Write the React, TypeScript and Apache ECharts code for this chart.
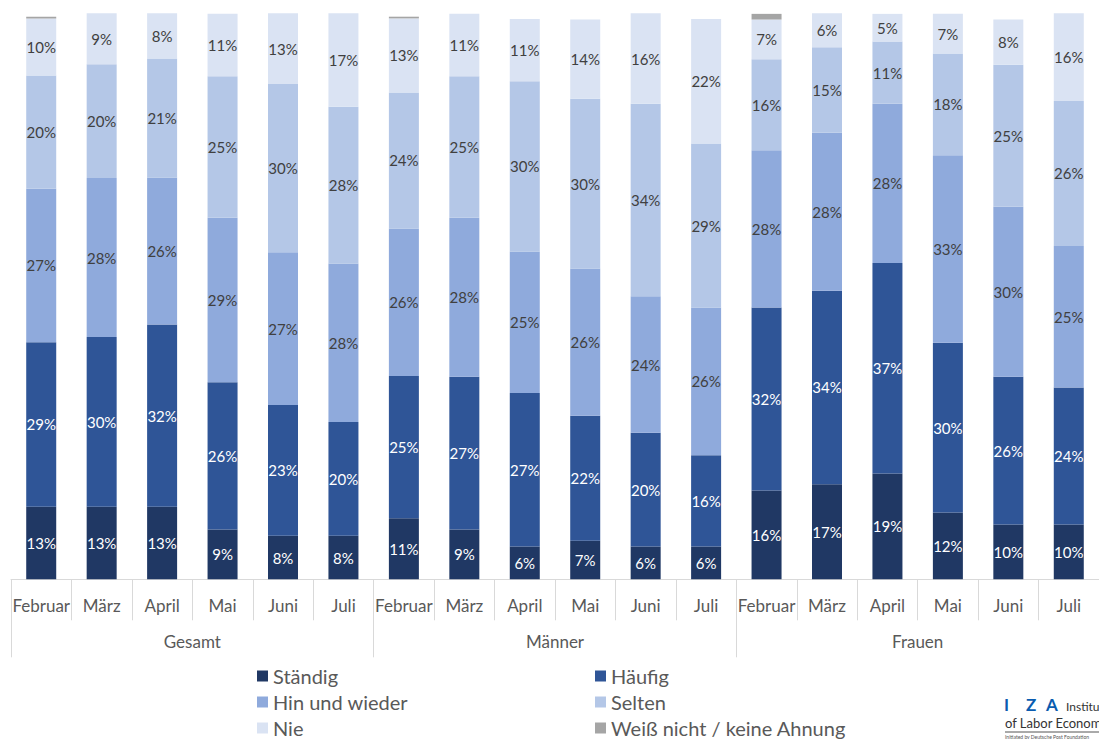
import React, { useEffect, useRef } from "react";
import * as echarts from "echarts";

const months = ["Februar", "März", "April", "Mai", "Juni", "Juli"];
const groups = ["Gesamt", "Männer", "Frauen"];
const categories = groups.flatMap(() => months);

const seriesNames = ["Ständig", "Häufig", "Hin und wieder", "Selten", "Nie", "Weiß nicht / keine Ahnung"];

const staendig = [12.8, 12.8, 12.8, 8.8, 7.7, 7.7, 10.8, 8.8, 5.8, 6.8, 5.8, 5.8, 15.7, 16.8, 18.7, 11.8, 9.7, 9.7];
const haeufig = [29.1, 30.0, 32.2, 26.0, 23.1, 20.1, 25.1, 27.0, 27.1, 22.1, 20.1, 16.1, 32.3, 34.2, 37.2, 30.0, 26.1, 24.2];
const hinUndWieder = [27.1, 28.1, 26.0, 29.1, 27.0, 28.0, 26.1, 28.1, 25.0, 26.0, 24.1, 26.1, 27.8, 27.9, 28.1, 33.1, 30.0, 25.0];
const selten = [20.0, 20.1, 21.0, 25.0, 29.7, 27.7, 24.0, 25.0, 30.1, 30.0, 34.0, 29.0, 16.1, 15.1, 11.0, 18.0, 25.1, 25.6];
const nie = [10.1, 9.0, 8.0, 11.0, 12.5, 16.5, 13.1, 11.0, 11.0, 14.0, 16.0, 22.0, 7.0, 6.0, 4.9, 7.0, 8.0, 15.5];
const weissNicht = [0.3, 0, 0, 0, 0, 0, 0.3, 0, 0, 0, 0, 0, 1.0, 0, 0, 0, 0, 0];

const seriesData = [staendig, haeufig, hinUndWieder, selten, nie, weissNicht];
const colors = ["#203864", "#2f5597", "#8faadc", "#b4c7e7", "#dae3f3", "#a5a5a5"];
const labelColors = ["#ffffff", "#ffffff", "#404040", "#404040", "#404040", "#404040"];

// legend layout: [left, top] for each series' legend item
const legendPos: [number, number][] = [
  [257, 666],
  [595, 666],
  [257, 692],
  [595, 692],
  [257, 718],
  [595, 718],
];

const FONT = 'Lato, "Noto Sans", sans-serif';

export default function App() {
  const ref = useRef<HTMLDivElement>(null);
  useEffect(() => {
    if (!ref.current) return;
    const chart = echarts.init(ref.current, null, { renderer: "svg" });
    const series = seriesNames.map((name, i) => ({
      name,
      type: "bar",
      stack: "total",
      xAxisIndex: 0,
      barWidth: 30,
      data: seriesData[i],
      itemStyle: { color: colors[i] },
      label: {
        show: i < 5,
        position: "inside",
        color: labelColors[i],
        fontSize: 15,
        fontFamily: FONT,
        formatter: (p: any) => (p.value > 0 ? Math.round(p.value) + "%" : ""),
      },
      emphasis: { disabled: true },
    }));
    const legends = seriesNames.map((name, i) => ({
      data: [name],
      orient: "horizontal",
      left: legendPos[i][0],
      top: legendPos[i][1],
      icon: "rect",
      itemWidth: 11,
      itemHeight: 11,
      padding: 0,
      selectedMode: false,
      textStyle: { fontSize: 20, lineHeight: 20, color: "#595959", fontFamily: FONT },
    }));
    chart.setOption({
      animation: false,
      textStyle: { fontFamily: FONT },
      grid: { left: 11, top: 13.3, width: 1092.6, height: 566, containLabel: false },
      xAxis: [
        {
          type: "category",
          data: categories,
          position: "bottom",
          offset: 0,
          axisLine: { show: true, lineStyle: { color: "#d9d9d9", width: 1 } },
          axisTick: { show: true, interval: 0, length: 41, lineStyle: { color: "#d9d9d9" } },
          axisLabel: { interval: 0, margin: 18, fontSize: 17, color: "#595959", fontFamily: FONT },
        },
        {
          type: "category",
          data: groups,
          position: "bottom",
          offset: 0,
          axisLine: { show: false },
          axisTick: { show: true, interval: 0, length: 78, lineStyle: { color: "#d9d9d9" } },
          axisLabel: { interval: 0, margin: 54, fontSize: 17, color: "#595959", fontFamily: FONT },
        },
      ],
      yAxis: { type: "value", min: 0, max: 100, show: false, splitLine: { show: false } },
      legend: legends,
      graphic: [
        { type: "text", x: 1004, y: 696, style: { text: "I", fontSize: 17, fontWeight: "bold", fill: "#0a5cb0", fontFamily: FONT } },
        { type: "text", x: 1026, y: 696, style: { text: "Z", fontSize: 17, fontWeight: "bold", fill: "#0a5cb0", fontFamily: FONT } },
        { type: "text", x: 1046, y: 696, style: { text: "A", fontSize: 17, fontWeight: "bold", fill: "#0a5cb0", fontFamily: FONT } },
        { type: "text", x: 1066, y: 700, style: { text: "Institute", fontSize: 12, fill: "#333333", fontFamily: FONT } },
        { type: "text", x: 1005, y: 716, style: { text: "of Labor Economics", fontSize: 13, fill: "#333333", fontFamily: FONT } },
        { type: "line", shape: { x1: 1005, y1: 732, x2: 1099, y2: 732 }, style: { stroke: "#555555", lineWidth: 1 } },
        { type: "text", x: 1005, y: 734, style: { text: "Initiated by Deutsche Post Foundation", fontSize: 5, fill: "#555555", fontFamily: FONT } },
      ],
      series,
    });
    return () => chart.dispose();
  }, []);
  return (
    <div
      ref={ref}
      style={{ position: "fixed", left: 0, top: 0, width: 1099, height: 739, background: "#ffffff" }}
    />
  );
}
